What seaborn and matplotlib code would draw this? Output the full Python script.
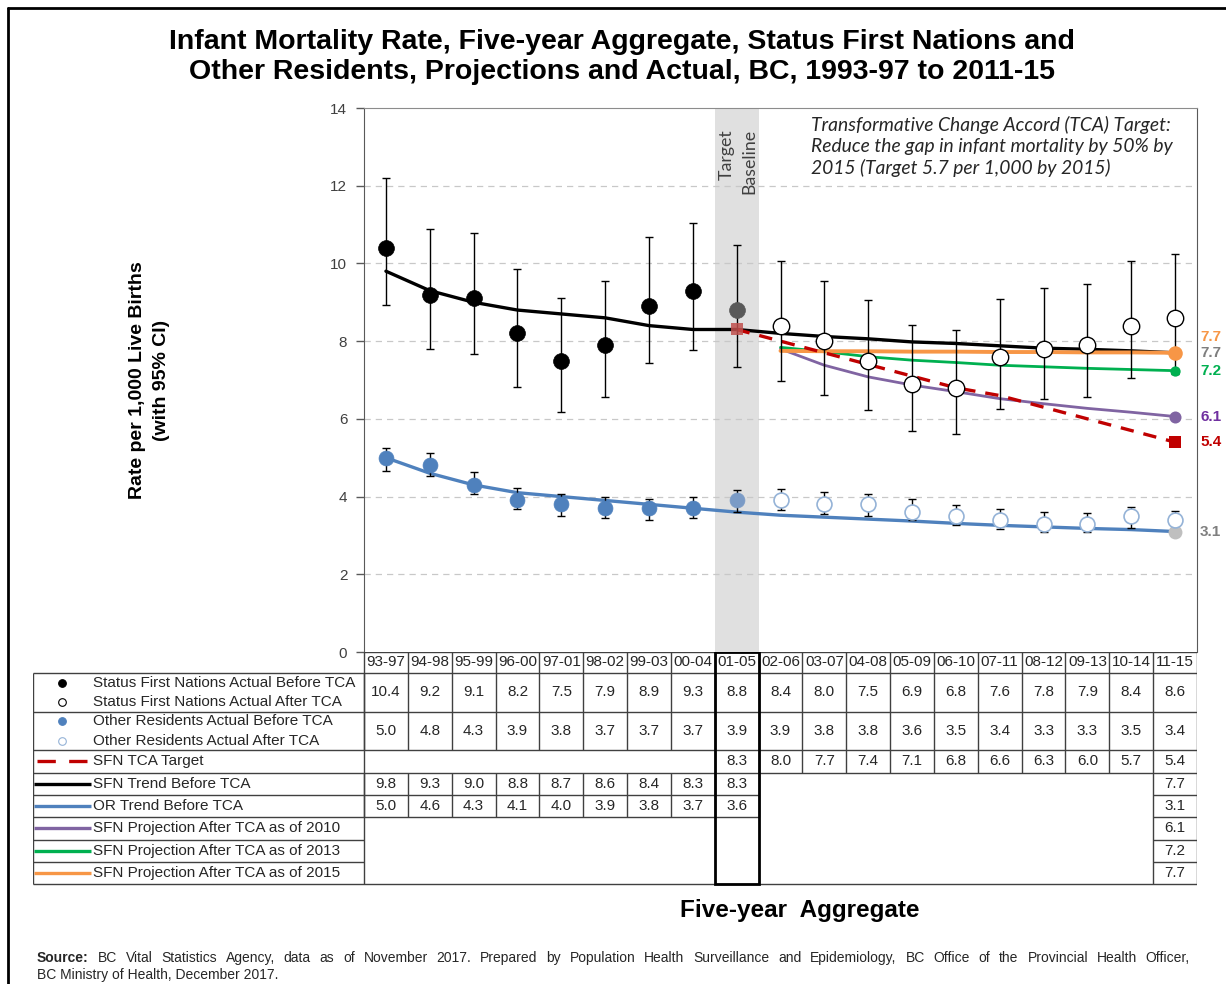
# Infant mortality, five-year aggregate, SFN vs other residents with TCA projections
import numpy as np
import matplotlib
matplotlib.use("Agg")
import matplotlib.pyplot as plt
from matplotlib.lines import Line2D
from matplotlib.patches import Rectangle
import seaborn as sns

sns.set_style("white")
plt.rcParams['font.family'] = ['Liberation Sans', 'DejaVu Sans']

# ---- data ----
periods = ["93-97", "94-98", "95-99", "96-00", "97-01", "98-02", "99-03", "00-04", "01-05",
           "02-06", "03-07", "04-08", "05-09", "06-10", "07-11", "08-12", "09-13", "10-14", "11-15"]

sfn_rate = [10.4, 9.2, 9.1, 8.2, 7.5, 7.9, 8.9, 9.3, 8.8, 8.4, 8.0, 7.5, 6.9, 6.8, 7.6, 7.8, 7.9, 8.4, 8.6]
sfn_lo = [8.93, 7.79, 7.67, 6.82, 6.17, 6.55, 7.45, 7.76, 7.33, 6.97, 6.61, 6.23, 5.70, 5.61, 6.25, 6.51, 6.57, 7.04, 7.15]
sfn_hi = [12.2, 10.88, 10.79, 9.85, 9.10, 9.56, 10.68, 11.03, 10.47, 10.06, 9.56, 9.06, 8.41, 8.29, 9.08, 9.36, 9.48, 10.06, 10.25]

or_rate = [5.0, 4.8, 4.3, 3.9, 3.8, 3.7, 3.7, 3.7, 3.9, 3.9, 3.8, 3.8, 3.6, 3.5, 3.4, 3.3, 3.3, 3.5, 3.4]
or_lo = [4.67, 4.52, 4.06, 3.67, 3.51, 3.46, 3.40, 3.46, 3.61, 3.65, 3.55, 3.50, 3.40, 3.27, 3.17, 3.10, 3.09, 3.20, 3.16]
or_hi = [5.26, 5.11, 4.64, 4.23, 4.06, 4.00, 3.95, 4.00, 4.17, 4.19, 4.11, 4.06, 3.93, 3.78, 3.67, 3.61, 3.59, 3.72, 3.63]

# target from 01-05 on
target = [8.3, 8.0, 7.7, 7.4, 7.1, 6.8, 6.6, 6.3, 6.0, 5.7, 5.4]
# trend lines, full range (table only prints some of them)
sfn_trend = [9.8, 9.3, 9.0, 8.8, 8.7, 8.6, 8.4, 8.3, 8.3, 8.2, 8.12, 8.06, 7.98, 7.94, 7.88, 7.82, 7.79, 7.75, 7.7]
or_trend = [5.0, 4.6, 4.3, 4.1, 4.0, 3.9, 3.8, 3.7, 3.6, 3.52, 3.47, 3.42, 3.37, 3.31, 3.26, 3.22, 3.18, 3.15, 3.1]
# projections from 02-06 on
proj_2010 = [7.8, 7.38, 7.08, 6.87, 6.7, 6.52, 6.39, 6.27, 6.17, 6.06]
proj_2013 = [7.84, 7.73, 7.6, 7.51, 7.45, 7.38, 7.34, 7.3, 7.27, 7.24]
proj_2015 = [7.75, 7.74, 7.74, 7.73, 7.73, 7.72, 7.72, 7.71, 7.71, 7.7]

source_1 = ("BC Vital Statistics Agency, data as of November 2017. Prepared by Population Health Surveillance "
            "and Epidemiology, BC Office of the Provincial Health Officer,")
source_2 = "BC Ministry of Health, December 2017."

x = np.arange(len(periods))
BASE = 8  # index of 01-05 baseline
sfn_rate, sfn_lo, sfn_hi = map(np.array, (sfn_rate, sfn_lo, sfn_hi))
or_rate, or_lo, or_hi = map(np.array, (or_rate, or_lo, or_hi))

# colours
C_OR = "#4f81bd"
C_OR_AFTER = "#95b3d7"
C_RED = "#c00000"
C_PURPLE = "#8064a2"
C_GREEN = "#00b050"
C_ORANGE = "#f79646"
C_TXT = "#262626"
C_LINE = "#404040"

W, H = 1226, 984
fig = plt.figure(figsize=(W / 100, H / 100), dpi=100)
fx = lambda p: p / W
fy = lambda p: 1 - p / H

# ---- main plot ----
ax = fig.add_axes([fx(364), fy(652), fx(1197) - fx(364), fy(108) - fy(652)])
ax.set_xlim(-0.5, len(periods) - 0.5)
ax.set_ylim(0, 14)
ax.axvspan(BASE - 0.5, BASE + 0.5, color="#e0e0e0", lw=0, zorder=0)

ax.set_yticks(range(0, 15, 2))
ax.set_xticks([])
for v in range(2, 14, 2):
    ax.axhline(v, color="#c8c8c8", lw=0.9, ls=(0, (5, 4)), zorder=0.5)
ax.tick_params(axis="y", left=True, length=6, width=1, color="#595959", labelsize=11, labelcolor=C_LINE, pad=6)
for s in ["left", "right"]:
    ax.spines[s].set_color("#595959")
ax.spines["top"].set_color("#8c8c8c")
ax.spines["bottom"].set_visible(False)

# trend and projection lines
sns.lineplot(x=x, y=sfn_trend, color="black", linewidth=2.4, ax=ax, zorder=3)
sns.lineplot(x=x, y=or_trend, color=C_OR, linewidth=2.4, ax=ax, zorder=3)
sns.lineplot(x=x[BASE + 1:], y=proj_2010, color=C_PURPLE, linewidth=2.0, ax=ax, zorder=3)
sns.lineplot(x=x[BASE + 1:], y=proj_2013, color=C_GREEN, linewidth=2.0, ax=ax, zorder=3)
sns.lineplot(x=x[BASE + 1:], y=proj_2015, color=C_ORANGE, linewidth=2.8, ax=ax, zorder=3.2)
sns.lineplot(x=x[BASE:], y=target, color=C_RED, linewidth=2.4, linestyle=(0, (4, 3)), ax=ax, zorder=3.4)

# confidence intervals
ax.errorbar(x, sfn_rate, yerr=[sfn_rate - sfn_lo, sfn_hi - sfn_rate], fmt="none",
            ecolor="black", elinewidth=1, capsize=3.2, capthick=1, zorder=4)
ax.errorbar(x, or_rate, yerr=[or_rate - or_lo, or_hi - or_rate], fmt="none",
            ecolor="black", elinewidth=1, capsize=3.2, capthick=1, zorder=4)

# actual rates
sns.scatterplot(x=x[:BASE], y=sfn_rate[:BASE], color="black", s=130, edgecolor="black", linewidth=0.5, ax=ax, zorder=5)
sns.scatterplot(x=x[BASE:BASE + 1], y=sfn_rate[BASE:BASE + 1], color="#595959", s=130, edgecolor="#595959", linewidth=0.5, ax=ax, zorder=5)
sns.scatterplot(x=x[BASE + 1:], y=sfn_rate[BASE + 1:], color="white", s=140, edgecolor="black", linewidth=1, ax=ax, zorder=5)
sns.scatterplot(x=x[:BASE], y=or_rate[:BASE], color=C_OR, s=115, edgecolor=C_OR, linewidth=0.5, ax=ax, zorder=5)
sns.scatterplot(x=x[BASE:BASE + 1], y=or_rate[BASE:BASE + 1], color="#7b9bc6", s=115, edgecolor="#7b9bc6", linewidth=0.5, ax=ax, zorder=5)
sns.scatterplot(x=x[BASE + 1:], y=or_rate[BASE + 1:], color="white", s=115, edgecolor=C_OR_AFTER, linewidth=1.2, ax=ax, zorder=5)

# baseline target square and end points
last = len(periods) - 1
sns.scatterplot(x=[BASE], y=[target[0]], marker="s", color="#c0504d", alpha=0.85, s=75, linewidth=0, ax=ax, zorder=6)
sns.scatterplot(x=[last], y=[target[-1]], marker="s", color=C_RED, s=75, linewidth=0, ax=ax, zorder=6)
sns.scatterplot(x=[last], y=[proj_2015[-1]], color=C_ORANGE, s=110, linewidth=0, ax=ax, zorder=6)
sns.scatterplot(x=[last], y=[proj_2013[-1]], color=C_GREEN, s=55, linewidth=0, ax=ax, zorder=6)
sns.scatterplot(x=[last], y=[proj_2010[-1]], color=C_PURPLE, s=75, linewidth=0, ax=ax, zorder=6)
sns.scatterplot(x=[last], y=[or_trend[-1]], color="#bfbfbf", s=100, linewidth=0, ax=ax, zorder=4.5)

# end labels
end_labels = [(proj_2015[-1], C_ORANGE, 16), (sfn_trend[-1], "#7f7f7f", 0), (proj_2013[-1], C_GREEN, 0),
              (proj_2010[-1], "#7030a0", 0), (target[-1], C_RED, 0), (or_trend[-1], "#7f7f7f", 0)]
for val, col, dy in end_labels:
    ax.annotate(f"{val:.1f}", xy=(last, val), xytext=(25, dy), textcoords="offset pixels",
                ha="left", va="center", fontsize=11, fontweight="bold", color=col, annotation_clip=False)

# band labels and note
ax.text(BASE - 0.23, 13.45, "Target", rotation=90, ha="center", va="top", fontsize=12.8,
        family=["Lato", "DejaVu Sans"], color=C_LINE)
ax.text(BASE + 0.29, 13.45, "Baseline", rotation=90, ha="center", va="top", fontsize=12.8,
        family=["Lato", "DejaVu Sans"], color=C_LINE)
ax.text(9.7, 13.8, "Transformative Change Accord (TCA) Target:\nReduce the gap in infant mortality by 50% by\n2015 (Target 5.7 per 1,000 by 2015)",
        ha="left", va="top", fontsize=13.9, style="italic", family=["Lato", "DejaVu Sans"],
        color=C_TXT, linespacing=1.27)

# ---- data table under the plot ----
col_w = (1197 - 364) / len(periods)
x_leg = len(periods) - 0.5 - (1197 - 33) / col_w
lx = lambda p: x_leg + (p - 33) / col_w
tab = fig.add_axes([fx(33), fy(886), fx(1197) - fx(33), fy(652) - fy(886)])
tab.set_xlim(x_leg, len(periods) - 0.5)
tab.set_ylim(886, 652)
tab.axis("off")

rows = [652, 673, 712, 750, 773, 795, 817, 840, 862, 884]
edges = np.arange(len(periods) + 1) - 0.5
R = len(periods) - 0.5
kw = dict(color=C_LINE, lw=1)

tab.hlines(rows[0], -0.5, R, **kw)
tab.vlines(edges, rows[0], rows[3], **kw)
tab.hlines([rows[1], rows[2], rows[3], rows[4]], x_leg, R, **kw)
tab.vlines(edges[BASE:], rows[3], rows[4], **kw)
tab.vlines(edges[:BASE + 2], rows[4], rows[6], **kw)
tab.hlines([rows[5], rows[6]], x_leg, BASE + 0.5, **kw)
tab.hlines([rows[5], rows[6], rows[7], rows[8]], last - 0.5, R, **kw)
tab.hlines([rows[7], rows[8]], x_leg, -0.5, **kw)
tab.vlines([last - 0.5, R], rows[4], rows[9], **kw)
tab.vlines([x_leg, -0.5], rows[1], rows[9], **kw)
tab.hlines(rows[9], x_leg, R, **kw)
tab.add_patch(Rectangle((BASE - 0.5, rows[0]), 1, rows[9] - rows[0], fill=False, ec="black", lw=2, zorder=5))

tk = dict(ha="center", va="center", fontsize=11, color=C_TXT)
mid = lambda i: (rows[i] + rows[i + 1]) / 2
for i, p in enumerate(periods):
    tab.text(i, mid(0), p, **tk)
    tab.text(i, mid(1), f"{sfn_rate[i]:.1f}", **tk)
    tab.text(i, mid(2), f"{or_rate[i]:.1f}", **tk)
for i, v in enumerate(target):
    tab.text(BASE + i, mid(3), f"{v:.1f}", **tk)
for i in list(range(BASE + 1)) + [last]:
    tab.text(i, mid(4), f"{sfn_trend[i]:.1f}", **tk)
    tab.text(i, mid(5), f"{or_trend[i]:.1f}", **tk)
for r, series in zip([6, 7, 8], [proj_2010, proj_2013, proj_2015]):
    tab.text(last, mid(r), f"{series[-1]:.1f}", **tk)

# legend column
lk = dict(ha="left", va="center", fontsize=11, color=C_TXT)
tx = lx(93)
legend_pts = [(683, "black", "black", "Status First Nations Actual Before TCA"),
              (702, "white", "black", "Status First Nations Actual After TCA"),
              (721, C_OR, C_OR, "Other Residents Actual Before TCA"),
              (741, "white", C_OR_AFTER, "Other Residents Actual After TCA")]
for yy, fc, ec, lab in legend_pts:
    tab.plot([lx(62)], [yy], "o", ms=5.5, mfc=fc, mec=ec, mew=0.8)
    tab.text(tx, yy, lab, **lk)
tab.plot([lx(37), lx(88)], [mid(3)] * 2, color=C_RED, lw=2.4, ls=(0, (5.5, 4)))
tab.text(tx, mid(3), "SFN TCA Target", **lk)
legend_lines = [(4, "black", "SFN Trend Before TCA"), (5, C_OR, "OR Trend Before TCA"),
                (6, C_PURPLE, "SFN Projection After TCA as of 2010"),
                (7, C_GREEN, "SFN Projection After TCA as of 2013"),
                (8, C_ORANGE, "SFN Projection After TCA as of 2015")]
for r, col, lab in legend_lines:
    tab.plot([lx(34), lx(91)], [mid(r)] * 2, color=col, lw=2.4, solid_capstyle="butt")
    tab.text(tx, mid(r), lab, **lk)

# ---- titles and notes ----
fig.text(fx(622), fy(42), "Infant Mortality Rate, Five-year Aggregate, Status First Nations and",
         ha="center", va="center", fontsize=20.5, fontweight="bold", color="black")
fig.text(fx(622), fy(72), "Other Residents, Projections and Actual, BC, 1993-97 to 2011-15",
         ha="center", va="center", fontsize=20.5, fontweight="bold", color="black")
fig.text(fx(138), fy(380), "Rate per 1,000 Live Births", rotation=90, ha="center",
         va="center", fontsize=14, fontweight="bold", color="black")
fig.text(fx(161), fy(380), "(with 95% CI)", rotation=90, ha="center",
         va="center", fontsize=14, fontweight="bold", color="black")
fig.text(fx(800), fy(911), "Five-year  Aggregate", ha="center", va="center", fontsize=17.5,
         fontweight="bold", color="black")

# source line 1 is justified across the width
r = fig.canvas.get_renderer()
words = ["Source:"] + source_1.split()
arts = [fig.text(0, fy(958), w, ha="left", va="center", fontsize=10, color=C_TXT,
                 fontweight="bold" if i == 0 else "normal") for i, w in enumerate(words)]
widths = [a.get_window_extent(r).width for a in arts]
gap = (1190 - 37 - sum(widths)) / (len(arts) - 1)
pos = 37
for a, w in zip(arts, widths):
    a.set_x(fx(pos))
    pos += w + gap
fig.text(fx(37), fy(975), source_2, ha="left", va="center", fontsize=10, color=C_TXT)

# outer frame
fig.add_artist(Line2D([fx(8), fx(8)], [0, fy(8)], color="black", lw=2))
fig.add_artist(Line2D([fx(8), 1], [fy(8), fy(8)], color="black", lw=2))

fig.savefig("out.png", dpi=100)
